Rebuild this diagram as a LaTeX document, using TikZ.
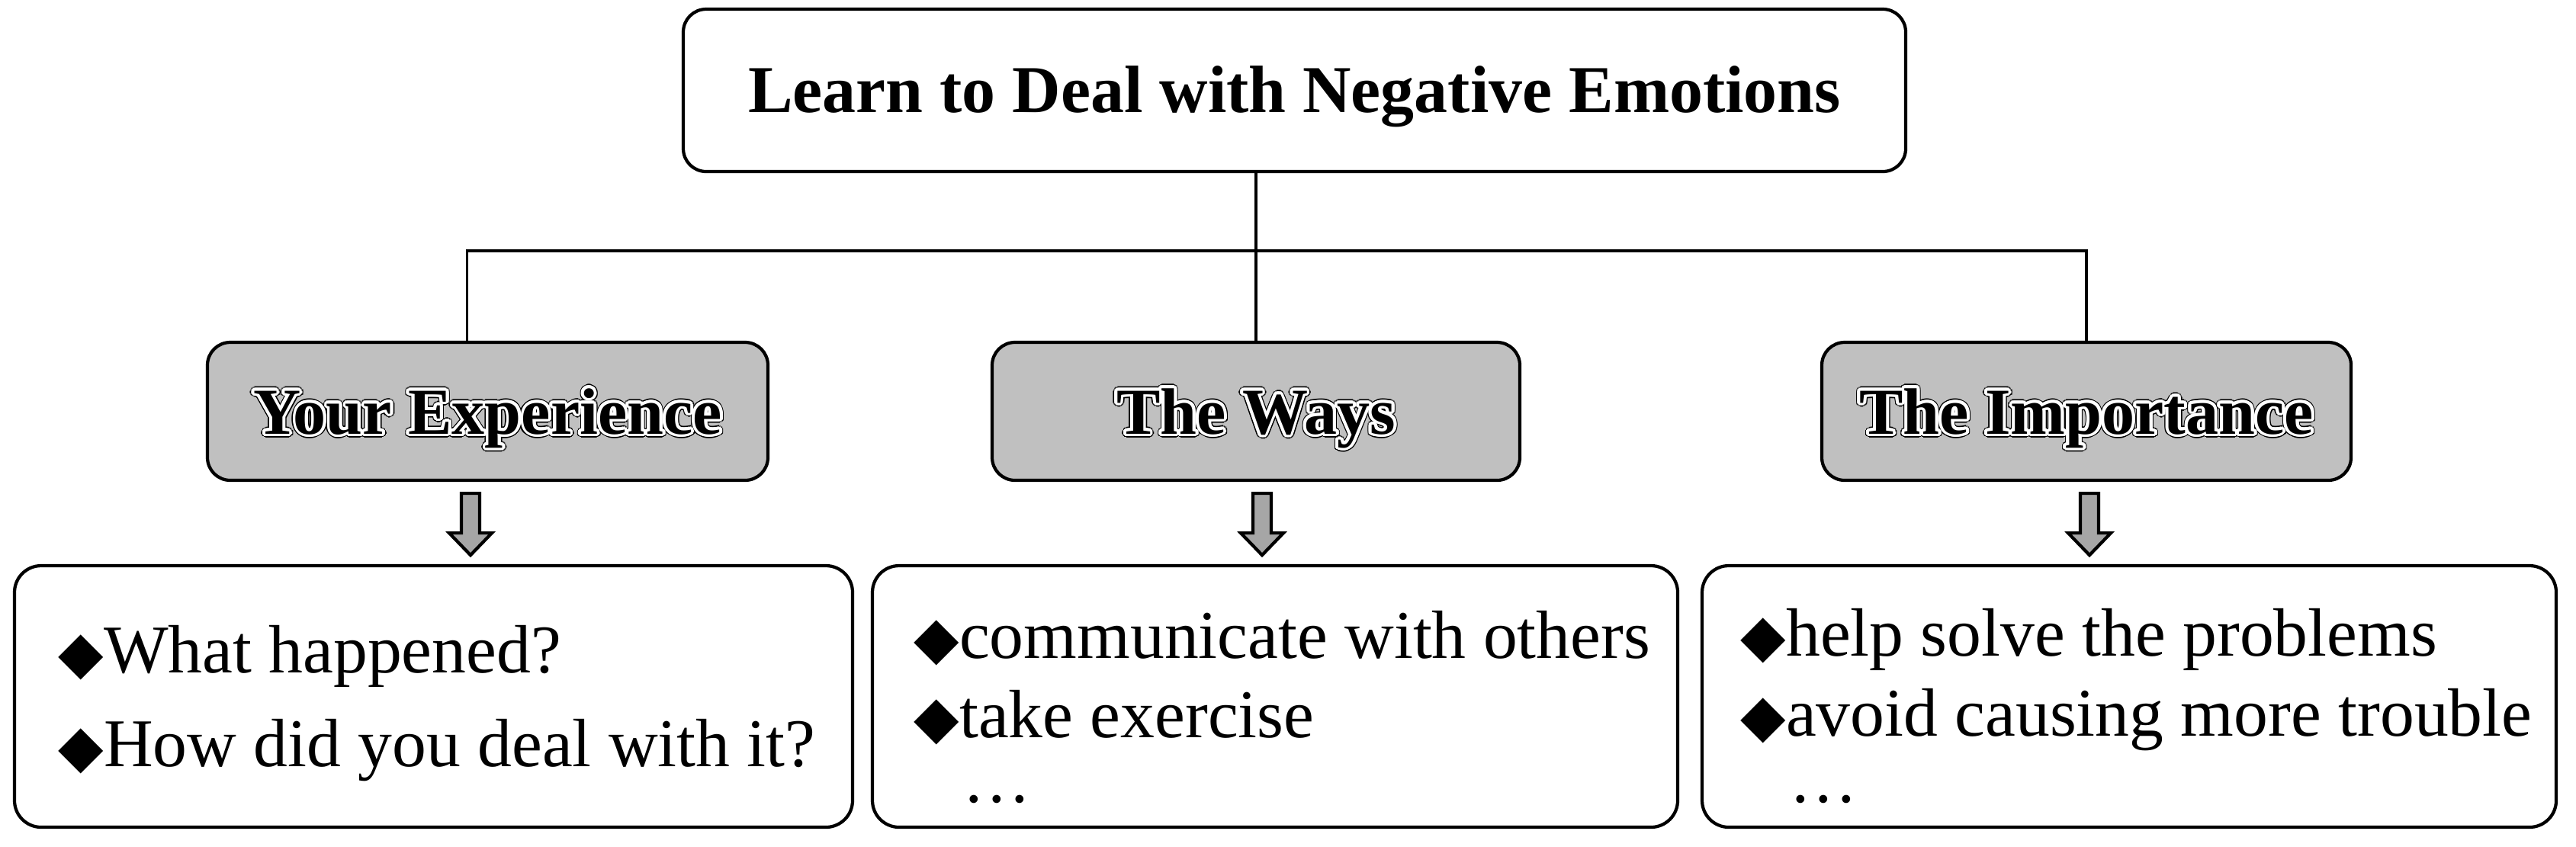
\documentclass[tikz,border=0pt]{standalone}
\usepackage{fontspec}
\setmainfont{Liberation Serif}
\newfontfamily\symfont{DejaVu Sans}
\usepackage{contour}
\usetikzlibrary{calc,positioning}

\definecolor{boxgray}{HTML}{C0C0C0}
\definecolor{arrowgray}{HTML}{A6A6A6}

% white ring with a thin black edge round the headings
\newcommand{\ringtext}[1]{\makebox[0pt][l]{\contourlength{1.5pt}\contour{black}{#1}}\contourlength{1.1pt}\contour{white}{#1}}
\newcommand{\dia}{{\symfont\fontsize{22pt}{22pt}\selectfont ◆}}

\tikzset{
  titlebox/.style={draw, line width=1.2pt, rounded corners=0.3cm, minimum width=16.03cm, minimum height=2.13cm,
    font=\fontsize{25pt}{30pt}\selectfont\bfseries, text height=0.6cm, text depth=0.03cm},
  headbox/.style={draw, line width=1.2pt, fill=boxgray, rounded corners=0.3cm, minimum height=1.81cm,
    font=\fontsize{24.5pt}{30pt}\selectfont\bfseries, text height=0.62cm, text depth=0.03cm},
  listbox/.style={draw, line width=1.2pt, rounded corners=0.35cm, minimum height=3.43cm},
  listitem/.style={anchor=base west, inner sep=0pt, font=\fontsize{25.5pt}{30pt}\selectfont},
  conn/.style={line width=1.1pt},
  blockarr/.style={draw, line width=1.2pt, fill=arrowgray, line join=miter},
  pics/downarrow/.style={code={
    \draw[blockarr] (-0.12,0) -- (-0.12,-0.52) -- (-0.28,-0.52) -- (0,-0.81) -- (0.28,-0.52) -- (0.12,-0.52) -- (0.12,0) -- cycle;}}
}

\begin{document}
\begin{tikzpicture}
\useasboundingbox (0,0) rectangle (33.78,-11.10);

% top
\node[titlebox] (title) at (16.975,-1.185) {Learn to Deal with Negative Emotions};

% headings
\node[headbox, minimum width=7.35cm] (exp) at (6.395,-5.395) {\ringtext{Your Experience}};
\node[headbox, minimum width=6.92cm] (ways) at (16.47,-5.395) {\ringtext{The Ways}};
\node[headbox, minimum width=6.94cm] (imp) at (27.36,-5.395) {\ringtext{The Importance}};

% lists
\node[listbox, minimum width=10.99cm] (explist) at (5.685,-9.135) {};
\node[listbox, minimum width=10.56cm] (wayslist) at (16.72,-9.135) {};
\node[listbox, minimum width=11.20cm] (implist) at (27.92,-9.135) {};

\node[listitem] (expA) at (0.76,-8.82) {\dia What happened?};
\node[listitem] (expB) at (0.76,-10.05) {\dia How did you deal with it?};
\node[listitem] (waysA) at (11.98,-8.63) {\dia communicate with others};
\node[listitem] (waysB) at (11.98,-9.67) {\dia take exercise};
\node[listitem] (waysC) at (12.62,-10.52) {…};
\node[listitem] (impA) at (22.82,-8.60) {\dia help solve the problems};
\node[listitem] (impB) at (22.82,-9.65) {\dia avoid causing more trouble};
\node[listitem] (impC) at (23.46,-10.52) {…};

% connectors
\coordinate (bus) at (0,-3.29);
\draw[conn] (title.south -| ways.north) -- (ways.north);
\draw[conn] ([xshift=-0.27cm]exp.north) |- (bus -| imp.north) -- (imp.north);

\pic at ([shift={(-0.225,-0.15)}]exp.south) {downarrow};
\pic at ([shift={(0.08,-0.15)}]ways.south) {downarrow};
\pic at ([shift={(0.04,-0.15)}]imp.south) {downarrow};
\end{tikzpicture}
\end{document}
